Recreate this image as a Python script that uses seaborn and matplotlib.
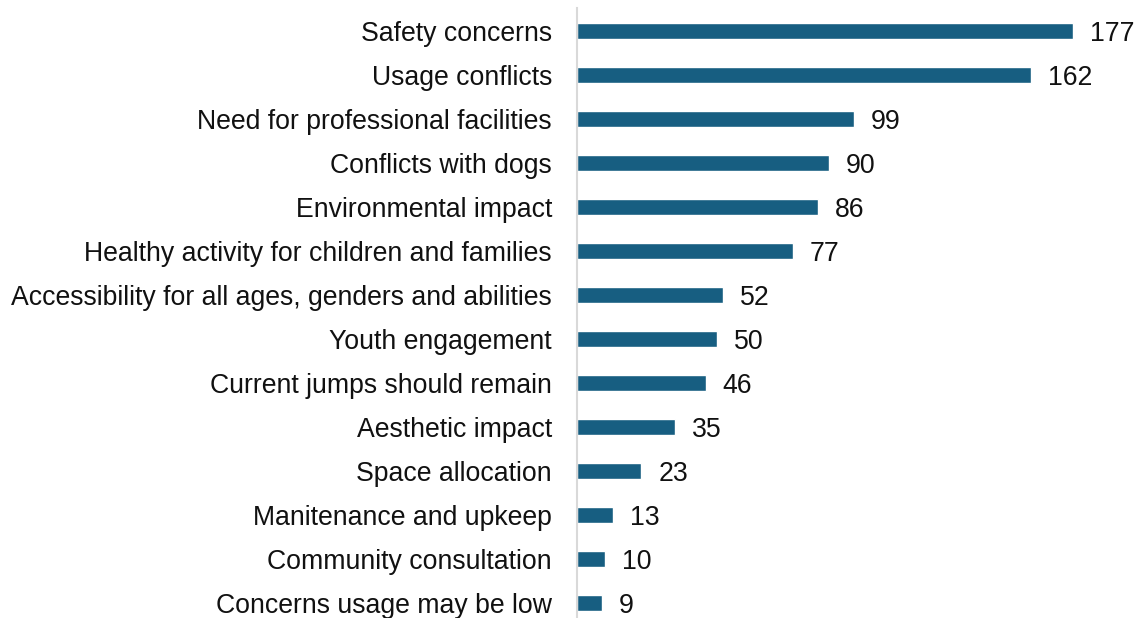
import matplotlib
matplotlib.use("Agg")
import matplotlib.pyplot as plt
import seaborn as sns
import pandas as pd

categories = [
    "Safety concerns",
    "Usage conflicts",
    "Need for professional facilities",
    "Conflicts with dogs",
    "Environmental impact",
    "Healthy activity for children and families",
    "Accessibility for all ages, genders and abilities",
    "Youth engagement",
    "Current jumps should remain",
    "Aesthetic impact",
    "Space allocation",
    "Manitenance and upkeep",
    "Community consultation",
    "Concerns usage may be low",
]
counts = [177, 162, 99, 90, 86, 77, 52, 50, 46, 35, 23, 13, 10, 9]

df = pd.DataFrame({"category": categories, "count": counts})

sns.set_style("white")
plt.rcParams["font.family"] = ["Liberation Sans", "DejaVu Sans"]

fig = plt.figure(figsize=(11.38, 6.18), dpi=100)
ax = fig.add_axes([0.507, 0.0, 0.4925, 0.987])

bar_color = "#175e81"
sns.barplot(data=df, x="count", y="category", color=bar_color, width=0.36,
            saturation=1, ax=ax, orient="h")

for i, v in enumerate(counts):
    ax.text(v + 6, i, str(v), va="center_baseline", ha="left", fontsize=19.2,
            color="#111111")

ax.set_xlim(0, 200)
ax.set_ylim(13.35, -0.52)
ax.set_xlabel("")
ax.set_ylabel("")
ax.set_xticks([])
ax.tick_params(axis="y", length=0, pad=18, labelsize=19.2, labelcolor="#111111")

for s in ["top", "right", "bottom"]:
    ax.spines[s].set_visible(False)
ax.spines["left"].set_color("#d9d9d9")
ax.spines["left"].set_linewidth(1.5)

fig.savefig("out.png", dpi=100)
